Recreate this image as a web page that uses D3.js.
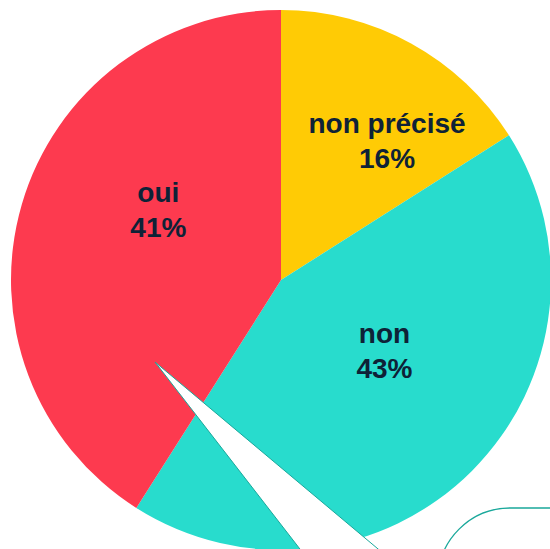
<!DOCTYPE html>
<html>
<head>
<meta charset="utf-8">
<script src="https://cdn.jsdelivr.net/npm/d3@7"></script>
<style>
  html, body { margin: 0; padding: 0; background: #fff; overflow: hidden; }
  .label { font-family: "Liberation Sans", Arial, sans-serif; font-weight: bold; font-size: 28px; fill: #0e2237; }
</style>
</head>
<body>
<div id="chart"></div>
<script>
// data
var categories = ["non précisé", "non", "oui"];
var values = [16, 43, 41];
var colors = ["#ffcb05", "#28dccd", "#fd3a4f"];

// layout
var width = 550, height = 549;
var cx = 281, cy = 280, radius = 270;
var labelNudge = [[41, -21], [8, -25], [7, -33]];
var lineGap = 35;

var svg = d3.select("#chart").append("svg")
    .attr("width", width)
    .attr("height", height);

var g = svg.append("g")
    .attr("transform", "translate(" + cx + "," + cy + ")");

var pie = d3.pie()
    .sort(null)
    .value(function(d) { return d; });

var arc = d3.arc()
    .innerRadius(0)
    .outerRadius(radius);

var arcs = pie(values);

g.selectAll(".slice")
    .data(arcs)
  .enter().append("path")
    .attr("class", "slice")
    .attr("d", arc)
    .attr("fill", function(d, i) { return colors[i]; });

var labels = g.selectAll(".label")
    .data(arcs)
  .enter().append("text")
    .attr("class", "label")
    .attr("text-anchor", "middle")
    .attr("transform", function(d, i) {
      var c = arc.centroid(d);
      return "translate(" + (c[0] + labelNudge[i][0]) + "," + (c[1] + labelNudge[i][1]) + ")";
    });

labels.append("tspan")
    .attr("x", 0)
    .attr("y", -lineGap / 2 + 10)
    .text(function(d, i) { return categories[i]; });

labels.append("tspan")
    .attr("x", 0)
    .attr("y", lineGap / 2 + 10)
    .text(function(d) { return d.data + "%"; });

// callout bubble (mostly below the visible area) with its pointer
svg.append("rect")
    .attr("x", 438)
    .attr("y", 508)
    .attr("width", 400)
    .attr("height", 300)
    .attr("rx", 72)
    .attr("fill", "#fff")
    .attr("stroke", "#1aa89b")
    .attr("stroke-width", 1.3);

var tip = [155, 362];
svg.append("path")
    .attr("d", d3.line()([
      tip,
      [tip[0] + 0.775 * 260, tip[1] + 260],
      [tip[0] + 1.193 * 260, tip[1] + 260]
    ]) + "Z")
    .attr("fill", "#fff")
    .attr("stroke", "#1aa89b")
    .attr("stroke-width", 1);
</script>
</body>
</html>
